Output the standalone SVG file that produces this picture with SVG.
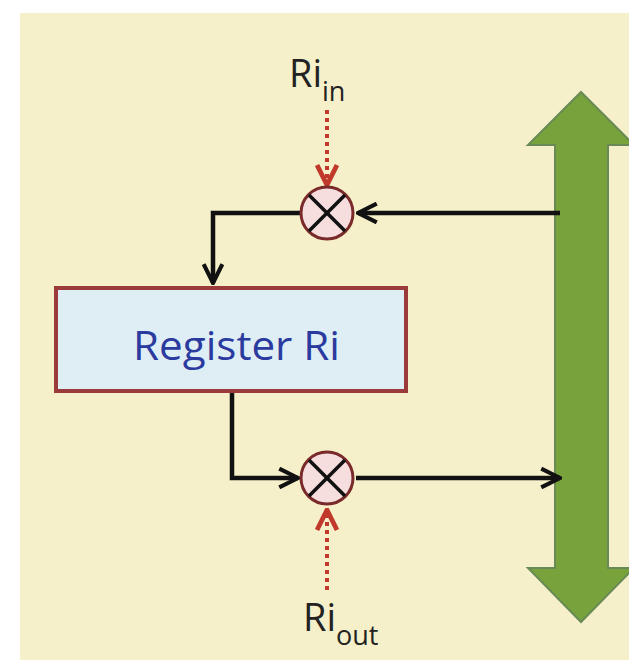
<svg xmlns="http://www.w3.org/2000/svg" width="629" height="660" viewBox="0 0 629 660">
<style>
.wire{fill:none;stroke:#111;stroke-width:4.5}
.ctl{fill:none;stroke:#c0392b;stroke-width:4;stroke-dasharray:4 4}
.mix{fill:#f7dede;stroke:#7a2a2a;stroke-width:3}
.xl{stroke:#111;stroke-width:3.5}
.lbl{font-family:"Open Sans","Liberation Sans",sans-serif;fill:#222}
</style>
<defs>
<marker id="ah" viewBox="0 0 12 12" refX="11" refY="6" markerWidth="5" markerHeight="5" orient="auto" markerUnits="strokeWidth">
<path d="M1,1 L11,6 L1,11" fill="none" stroke="#111" stroke-width="2.2"/>
</marker>
<marker id="rh" viewBox="0 0 12 12" refX="11" refY="6" markerWidth="6" markerHeight="6" orient="auto" markerUnits="strokeWidth">
<path d="M1,1 L11,6 L1,11" fill="none" stroke="#c0392b" stroke-width="2.4"/>
</marker>
</defs>
<rect x="0" y="0" width="629" height="660" fill="#ffffff"/>
<rect x="20" y="13" width="609" height="647" fill="#f5f0c9"/>
<g id="bus">
<polygon points="581,92 634,145 608,145 608,568 634,568 581,622 528,568 555,568 555,145 528,145" fill="#77a23c" stroke="#6a8a55" stroke-width="2"/>
</g>
<g id="connectors">
<path class="wire" d="M560,213 L358,213" marker-end="url(#ah)"/>
<path class="wire" d="M300,213 L213,213 L213,283" marker-end="url(#ah)"/>
<path class="wire" d="M232,392 L232,478 L298,478" marker-end="url(#ah)"/>
<path class="wire" d="M356,478 L560,478" marker-end="url(#ah)"/>
<path class="ctl" d="M327,110 L327,185" marker-end="url(#rh)"/>
<path class="ctl" d="M327,590 L327,510" marker-end="url(#rh)"/>
</g>
<g id="register">
<rect x="56" y="288" width="350" height="103" fill="#dfeef4" stroke="#9a3a3a" stroke-width="4"/>
<text x="133" y="360" textLength="207" lengthAdjust="spacingAndGlyphs" font-family="'Open Sans','Liberation Sans',sans-serif" font-size="40" fill="#2b3a9e">Register Ri</text>
</g>
<g id="gate-in">
<circle class="mix" cx="327" cy="213" r="26"/>
<line class="xl" x1="309" y1="195" x2="345" y2="231"/>
<line class="xl" x1="345" y1="195" x2="309" y2="231"/>
</g>
<g id="gate-out">
<circle class="mix" cx="327" cy="478" r="26"/>
<line class="xl" x1="309" y1="460" x2="345" y2="496"/>
<line class="xl" x1="345" y1="460" x2="309" y2="496"/>
</g>
<g id="label-in">
<text class="lbl" x="289" y="87" font-size="38">Ri<tspan font-size="27" dy="14">in</tspan></text>
</g>
<g id="label-out">
<text class="lbl" x="303" y="631" font-size="38">Ri<tspan font-size="27" dy="14">out</tspan></text>
</g>
</svg>
